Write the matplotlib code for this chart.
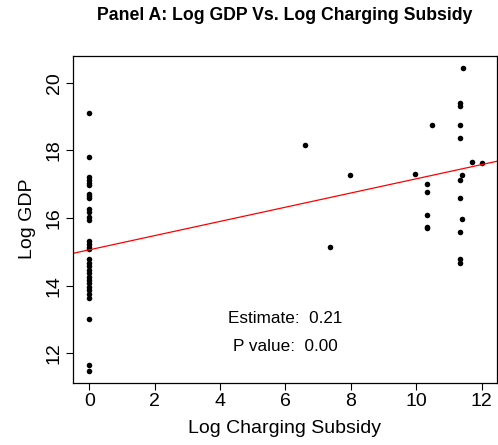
import numpy as np
import matplotlib.pyplot as plt

plt.rcParams['font.family'] = ['Liberation Sans', 'DejaVu Sans']

# log charging subsidy (x) and log GDP (y)
subsidy_zero_gdp = [19.12, 17.79, 17.20, 17.12, 17.05, 16.97, 16.71, 16.65, 16.59,
                    16.26, 16.18, 16.02, 15.94, 15.33, 15.23, 15.15, 15.09,
                    14.78, 14.68, 14.58, 14.46, 14.37, 14.27, 14.17, 14.07,
                    13.97, 13.87, 13.75, 13.63, 13.01, 11.65, 11.49]
subsidy_pos_x = [6.61, 7.37, 7.99, 9.95, 10.34, 10.34, 10.34, 10.34, 10.34, 10.49,
                 11.44, 11.35, 11.35, 11.35, 11.35, 11.40, 11.35, 11.35, 11.40,
                 11.35, 11.35, 11.35, 11.70, 12.0]
subsidy_pos_gdp = [18.17, 15.15, 17.27, 17.31, 17.00, 16.76, 16.09, 15.74, 15.70, 18.76,
                   20.44, 19.39, 19.31, 18.76, 18.37, 17.27, 17.12, 16.58, 15.98,
                   15.60, 14.78, 14.68, 17.66, 17.64]

x_vals = [0.0] * len(subsidy_zero_gdp) + subsidy_pos_x
y_vals = subsidy_zero_gdp + subsidy_pos_gdp

intercept = 15.06
slope = 0.21
estimate_txt = "Estimate:  0.21"
pvalue_txt = "P value:  0.00"

fig = plt.figure(figsize=(4.98, 4.45), dpi=100)
ax = fig.add_axes([0.1472, 0.14, 0.850, 0.7348])

ax.plot(x_vals, y_vals, 'o', color='black', markersize=4.0, markeredgewidth=0)
ax.axline((0, intercept), slope=slope, color='red', linewidth=0.9)

ax.set_xlim(-0.49, 12.46)
ax.set_ylim(11.13, 20.80)
ax.set_xticks([0, 2, 4, 6, 8, 10, 12])
ax.set_yticks([12, 14, 16, 18, 20])
ax.tick_params(direction='out', length=5, width=0.8, labelsize=14, pad=2.5)
for lab in ax.get_yticklabels():
    lab.set_rotation(90)
    lab.set_va('center')
for sp in ax.spines.values():
    sp.set_linewidth(0.9)

ax.set_xlabel("Log Charging Subsidy", fontsize=14, labelpad=7)
ax.set_ylabel("Log GDP", fontsize=14, labelpad=7)

ax.text(6, 13.02, estimate_txt, fontsize=12.3, ha='center', va='center')
ax.text(6, 12.2, pvalue_txt, fontsize=12.3, ha='center', va='center')

fig.text(0.572, 0.966, "Panel A: Log GDP Vs. Log Charging Subsidy",
         fontsize=12.7, fontweight='bold', ha='center', va='center')

fig.savefig("out.png", dpi=100)
